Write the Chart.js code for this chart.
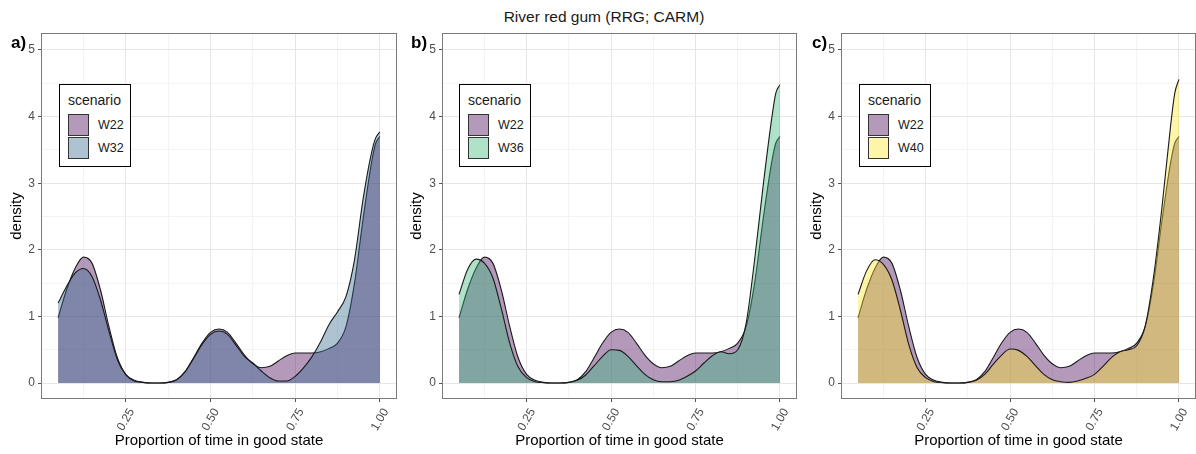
<!DOCTYPE html>
<html>
<head>
<meta charset="utf-8">
<script src="https://cdn.jsdelivr.net/npm/chart.js@4.4.1/dist/chart.umd.min.js"></script>
<style>
  body { margin: 0; background: #fff; font-family: "Liberation Sans", Arial, sans-serif; }
  #wrap { position: relative; width: 1196px; height: 454px; overflow: hidden; }
  .panel { position: absolute; top: 0; }
  canvas { display: block; }
  .title { position: absolute; top: 8px; left: 604px; transform: translateX(-50%); font-size: 15.5px; color: #1a1a1a; white-space: nowrap; }
  .tag { position: absolute; top: 34px; font-size: 17px; font-weight: bold; line-height: 18px; color: #000; }
  .legend { position: absolute; top: 84px; width: 72px; height: 83px; border: 1px solid #000; background: #fff; box-sizing: border-box; }
  .legend .lt { position: absolute; left: 8px; top: 7px; font-size: 14px; color: #1a1a1a; }
  .legend .key { position: absolute; left: 8px; width: 21px; height: 22px; border: 1px solid #333; box-sizing: border-box; }
  .legend .lab { position: absolute; left: 38px; font-size: 12.5px; color: #1a1a1a; line-height: 22px; }
</style>
</head>
<body>
<div id="wrap">
  <div class="title">River red gum (RRG; CARM)</div>
  <div class="panel" style="left:0"><canvas id="pa" width="400" height="454"></canvas></div>
  <div class="panel" style="left:400px"><canvas id="pb" width="400" height="454"></canvas></div>
  <div class="panel" style="left:800px"><canvas id="pc" width="396" height="454"></canvas></div>
  <div class="tag" style="left:11px">a)</div>
  <div class="tag" style="left:411px">b)</div>
  <div class="tag" style="left:812px">c)</div>
  <div class="legend" id="la" style="left:59px"></div>
  <div class="legend" id="lb" style="left:459px"></div>
  <div class="legend" id="lc" style="left:859px"></div>
</div>
<script>
// proportion of time in good state (x of the density curves)
const props = [0.05, 0.075, 0.1, 0.125, 0.15, 0.175, 0.2, 0.225, 0.25, 0.275,
  0.3, 0.325, 0.35, 0.375, 0.4, 0.425, 0.45, 0.475, 0.5, 0.525,
  0.55, 0.575, 0.6, 0.625, 0.65, 0.675, 0.7, 0.725, 0.75, 0.775,
  0.8, 0.825, 0.85, 0.875, 0.9, 0.925, 0.95, 0.975, 0.9875, 1.0];

// densities
const w22 = [0.98, 1.4, 1.72, 1.89, 1.8, 1.4, 0.85, 0.38, 0.13, 0.04,
  0.01, 0, 0, 0.01, 0.05, 0.17, 0.38, 0.6, 0.76, 0.81,
  0.76, 0.6, 0.42, 0.29, 0.23, 0.25, 0.33, 0.41, 0.45, 0.45,
  0.45, 0.47, 0.52, 0.6, 0.85, 1.5, 2.45, 3.3, 3.6, 3.7];
const w32 = [1.2, 1.45, 1.65, 1.72, 1.6, 1.25, 0.78, 0.35, 0.12, 0.03,
  0.01, 0, 0, 0.01, 0.05, 0.17, 0.37, 0.58, 0.73, 0.78,
  0.73, 0.57, 0.4, 0.3, 0.18, 0.08, 0.03, 0.03, 0.1, 0.23,
  0.4, 0.62, 0.88, 1.07, 1.3, 1.85, 2.75, 3.45, 3.68, 3.77];
const w36 = [1.33, 1.7, 1.86, 1.8, 1.58, 1.12, 0.6, 0.24, 0.08, 0.02,
  0.005, 0, 0, 0.01, 0.04, 0.12, 0.26, 0.4, 0.5, 0.49,
  0.4, 0.26, 0.13, 0.05, 0.02, 0.02, 0.04, 0.1, 0.18, 0.3,
  0.41, 0.47, 0.44, 0.5, 0.9, 1.85, 2.95, 3.95, 4.35, 4.48];
const w40 = [1.33, 1.68, 1.85, 1.78, 1.55, 1.1, 0.58, 0.23, 0.08, 0.02,
  0.005, 0, 0, 0.01, 0.04, 0.13, 0.28, 0.42, 0.51, 0.49,
  0.4, 0.26, 0.13, 0.05, 0.02, 0.01, 0.03, 0.07, 0.13, 0.25,
  0.38, 0.47, 0.5, 0.56, 0.85, 1.6, 2.65, 3.85, 4.35, 4.56];

const xTicks = [0.125, 0.25, 0.375, 0.5, 0.625, 0.75, 0.875, 1.0];
const xTickLabels = ["0.25", "0.50", "0.75", "1.00"];
const yTicks = [0, 0.5, 1, 1.5, 2, 2.5, 3, 3.5, 4, 4.5, 5];
const yTickLabels = ["0", "1", "2", "3", "4", "5"];

const fills = {
  W22: "rgba(68, 1, 84, 0.4)",
  W32: "rgba(49, 104, 142, 0.4)",
  W36: "rgba(53, 183, 121, 0.4)",
  W40: "rgba(253, 231, 37, 0.4)"
};

const isMajorX = v => Math.abs(v * 4 - Math.round(v * 4)) < 1e-6;
const isMajorY = v => Number.isInteger(v);

const frame = {
  id: "frame",
  afterDraw(chart) {
    const { ctx, chartArea: a } = chart;
    ctx.save();
    ctx.strokeStyle = "#7a7a7a";
    ctx.lineWidth = 1;
    ctx.strokeRect(Math.round(a.left) - 0.5, Math.round(a.top) - 0.5,
      Math.round(a.right - a.left) + 1, Math.round(a.bottom - a.top) + 1);
    ctx.restore();
  }
};

function series(label, values) {
  return {
    label,
    data: props.map((x, i) => ({ x, y: values[i] })),
    backgroundColor: fills[label],
    borderColor: "#1a1a1a",
    borderWidth: 1.1,
    fill: "origin",
    pointRadius: 0,
    cubicInterpolationMode: "monotone"
  };
}

function makePanel(id, legendId, other, otherLabel, yAxisW, rightPad) {
  // W22 is drawn first, the other scenario on top of it
  const sets = [series(otherLabel, other), series("W22", w22)];

  new Chart(document.getElementById(id), {
    type: "line",
    data: { datasets: sets },
    options: {
      responsive: false,
      animation: false,
      layout: { padding: { top: 34, right: rightPad, left: 0, bottom: 0 } },
      plugins: { legend: { display: false }, tooltip: { enabled: false } },
      scales: {
        x: {
          type: "linear",
          min: 0.0025,
          max: 1.0475,
          afterBuildTicks: s => { s.ticks = xTicks.map(v => ({ value: v })); },
          afterFit: s => { s.height = 56; },
          ticks: {
            autoSkip: false,
            minRotation: 60,
            maxRotation: 60,
            labelOffset: 6,
            padding: 4,
            color: "#4d4d4d",
            font: { family: "Liberation Sans", size: 12 },
            callback: v => isMajorX(v) ? xTickLabels[Math.round(v * 4) - 1] : ""
          },
          grid: {
            color: c => isMajorX(c.tick.value) ? "#e6e6e6" : "#f3f3f3",
            tickColor: c => isMajorX(c.tick.value) ? "#555" : "rgba(0,0,0,0)",
            tickLength: 4,
            lineWidth: 1
          },
          border: { display: false },
          title: {
            display: true,
            text: "Proportion of time in good state",
            color: "#000",
            font: { family: "Liberation Sans", size: 15 },
            padding: { top: 0, bottom: 4 }
          }
        },
        y: {
          type: "linear",
          min: -0.225,
          max: 5.24,
          afterBuildTicks: s => { s.ticks = yTicks.map(v => ({ value: v })); },
          afterFit: s => { s.width = yAxisW; },
          ticks: {
            autoSkip: false,
            padding: 3,
            color: "#4d4d4d",
            font: { family: "Liberation Sans", size: 12 },
            callback: v => isMajorY(v) ? yTickLabels[v] : ""
          },
          grid: {
            color: c => isMajorY(c.tick.value) ? "#e6e6e6" : "#f3f3f3",
            tickColor: c => isMajorY(c.tick.value) ? "#555" : "rgba(0,0,0,0)",
            tickLength: 4,
            lineWidth: 1
          },
          border: { display: false },
          title: {
            display: true,
            text: "density",
            color: "#000",
            font: { family: "Liberation Sans", size: 15 },
            padding: { top: 8, bottom: 0 }
          }
        }
      }
    },
    plugins: [frame]
  });

  // legend box inside the panel
  const box = document.getElementById(legendId);
  box.innerHTML = '<div class="lt">scenario</div>' +
    ["W22", otherLabel].map((lab, i) =>
      '<div class="key" style="top:' + (29 + i * 23) + 'px;background:' + fills[lab] + '"></div>' +
      '<div class="lab" style="top:' + (29 + i * 23) + 'px">' + lab + '</div>').join("");
}

makePanel("pa", "la", w32, "W32", 42, 4);
makePanel("pb", "lb", w36, "W36", 43, 4);
makePanel("pc", "lc", w40, "W40", 42, 1);
</script>
</body>
</html>
